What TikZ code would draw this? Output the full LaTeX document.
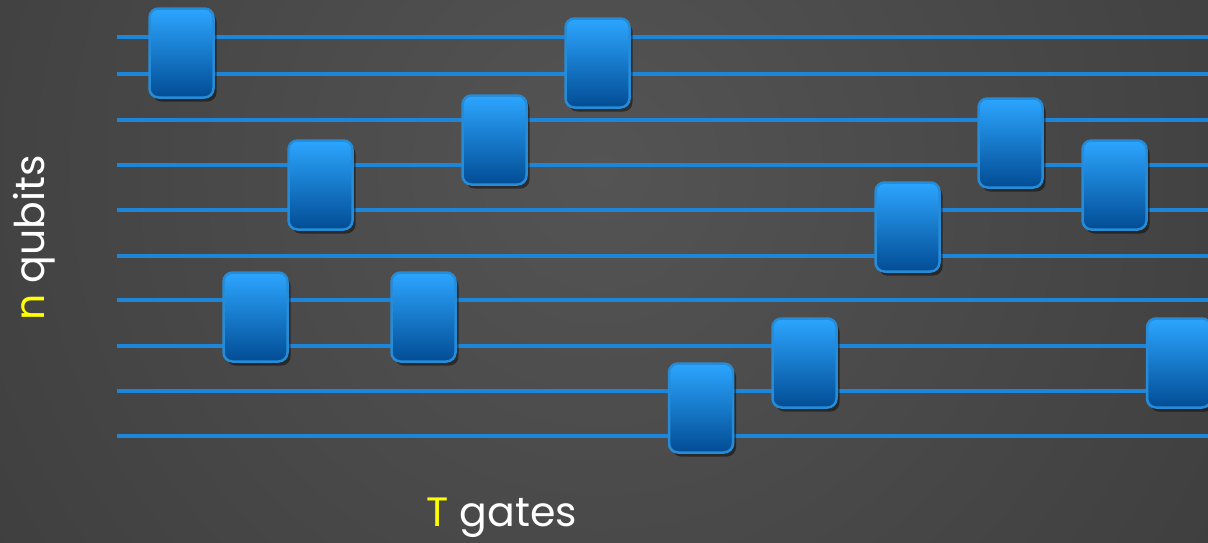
\documentclass[tikz,border=0pt]{standalone}
\usepackage{fontspec}
\setmainfont{Poppins}
\usetikzlibrary{shadows, positioning}
\definecolor{bgcenter}{RGB}{84,84,84}
\definecolor{bgedge}{RGB}{46,46,46}
\definecolor{wireblue}{RGB}{30,134,216}
\definecolor{gatetop}{RGB}{44,166,255}
\definecolor{gatebot}{RGB}{2,76,148}
\definecolor{gateedge}{RGB}{38,140,215}
\definecolor{labelyellow}{RGB}{255,255,0}

\begin{document}
\begin{tikzpicture}[
  x=1pt, y=-1pt,
  every node/.style={font=\fontsize{41}{48}\selectfont, text=white},
  wire/.style={draw=wireblue, line width=3.2pt},
  gate/.style={rectangle, rounded corners=9pt, draw=gateedge, line width=2.5pt,
    top color=gatetop, bottom color=gatebot, minimum width=64pt, minimum height=89pt,
    drop shadow={shadow xshift=3pt, shadow yshift=-4pt, opacity=0.45, fill=black}},
  hl/.style={text=labelyellow}
]
% background (lighter in the upper middle)
\useasboundingbox (0,0) rectangle (1208,542);
\clip (0,0) rectangle (1208,542);
\fill[bgedge] (0,0) rectangle (1208,542);
\shade[inner color=bgcenter, outer color=bgedge] (600,170) circle (1300pt);

% wires (10 qubit lines)
\foreach \i/\y in {1/37, 2/74, 3/120, 4/165, 5/210, 6/256, 7/300, 8/346, 9/391, 10/436} {
  \coordinate (wa\i) at (117,\y);
  \coordinate (wb\i) at (1208,\y);
  \draw[wire] (wa\i) -- (wb\i);
}

% T gates, each on two neighbouring wires
\node[gate] (g1)  at (181.5,53)  {};
\node[gate] (g2)  at (597.5,63)  {};
\node[gate] (g3)  at (494.5,140) {};
\node[gate] (g4)  at (320.5,185) {};
\node[gate] (g5)  at (1010.5,143) {};
\node[gate] (g6)  at (1114.5,185) {};
\node[gate] (g7)  at (907.5,227) {};
\node[gate] (g8)  at (255.5,317) {};
\node[gate] (g9)  at (423.5,317) {};
\node[gate] (g10) at (701,408)   {};
\node[gate] (g11) at (804.5,363) {};
\node[gate] (g12) at (1179,363)  {};

% labels
\node[rotate=90] (qubits) at (34,238) {\textcolor{labelyellow}{n} qubits};
\node (tgates) at (502,518) {\textcolor{labelyellow}{T} gates};
\end{tikzpicture}
\end{document}
